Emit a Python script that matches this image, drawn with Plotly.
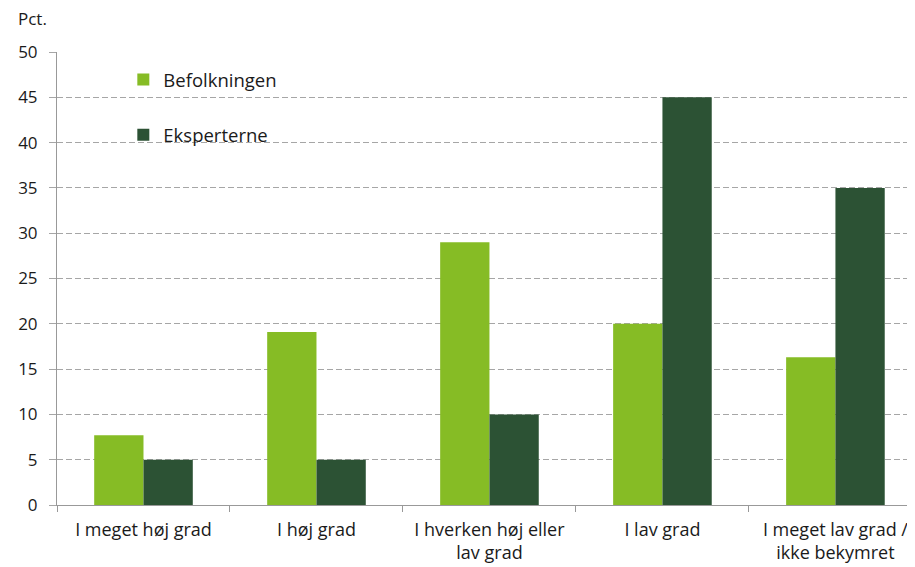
import plotly.graph_objects as go

categories = ["I meget høj grad", "I høj grad", "I hverken høj eller<br>lav grad",
              "I lav grad", "I meget lav grad /<br>ikke bekymret"]
befolkningen = [7.7, 19.1, 29.0, 20.0, 16.3]
eksperterne = [5, 5, 10, 45, 35]
y_ticks = [0, 5, 10, 15, 20, 25, 30, 35, 40, 45, 50]

LIGHT = "#86bc25"
DARK = "#2c5234"
FONT = "Open Sans"
TXT = "#1a1a1a"

fig = go.Figure()
fig.add_trace(go.Bar(x=categories, y=befolkningen, name="Befolkningen",
                     marker=dict(color=LIGHT, line=dict(width=0)), legendgroup="a"))
fig.add_trace(go.Bar(x=categories, y=eksperterne, name="Eksperterne",
                     marker=dict(color=DARK, line=dict(width=0)), legendgroup="b"))

fig.update_layout(
    width=907, height=559,
    margin=dict(l=49, r=0, t=44, b=62, autoexpand=False),
    paper_bgcolor="white", plot_bgcolor="white",
    font=dict(family=FONT, size=18, color=TXT),
    barmode="group", bargap=0.43, bargroupgap=0,
    showlegend=True,
    legend=dict(x=0.0773, y=0.98, xanchor="left", yanchor="top",
                bgcolor="rgba(0,0,0,0)", font=dict(size=18.5, color=TXT),
                tracegroupgap=28, itemclick=False),
    xaxis=dict(type="category", range=[-0.5, 4.46], showline=True, linecolor="#999999",
               linewidth=1, ticks="outside", tickson="boundaries", ticklen=6,
               tickcolor="#999999", showgrid=False, ticklabelstandoff=8,
               tickfont=dict(size=18, color=TXT)),
    yaxis=dict(range=[0, 50], tickvals=y_ticks, showline=True, linecolor="#999999",
               linewidth=1, ticks="outside", ticklen=7, tickcolor="#a6a6a6",
               showgrid=True, gridcolor="#a6a6a6", gridwidth=1, griddash="6px,3px",
               zeroline=False, ticklabelstandoff=8, tickfont=dict(size=17, color=TXT)),
    shapes=[dict(type="rect", xref="paper", yref="paper", x0=0.047, x1=0.295,
                 y0=0.73, y1=0.97, fillcolor="white", line=dict(width=0), layer="between")],
    annotations=[dict(text="Pct.", xref="paper", yref="paper", x=-0.048, y=1.075,
                      xanchor="left", yanchor="middle", showarrow=False,
                      font=dict(size=17, color=TXT))],
)

fig.write_html("out.html")
